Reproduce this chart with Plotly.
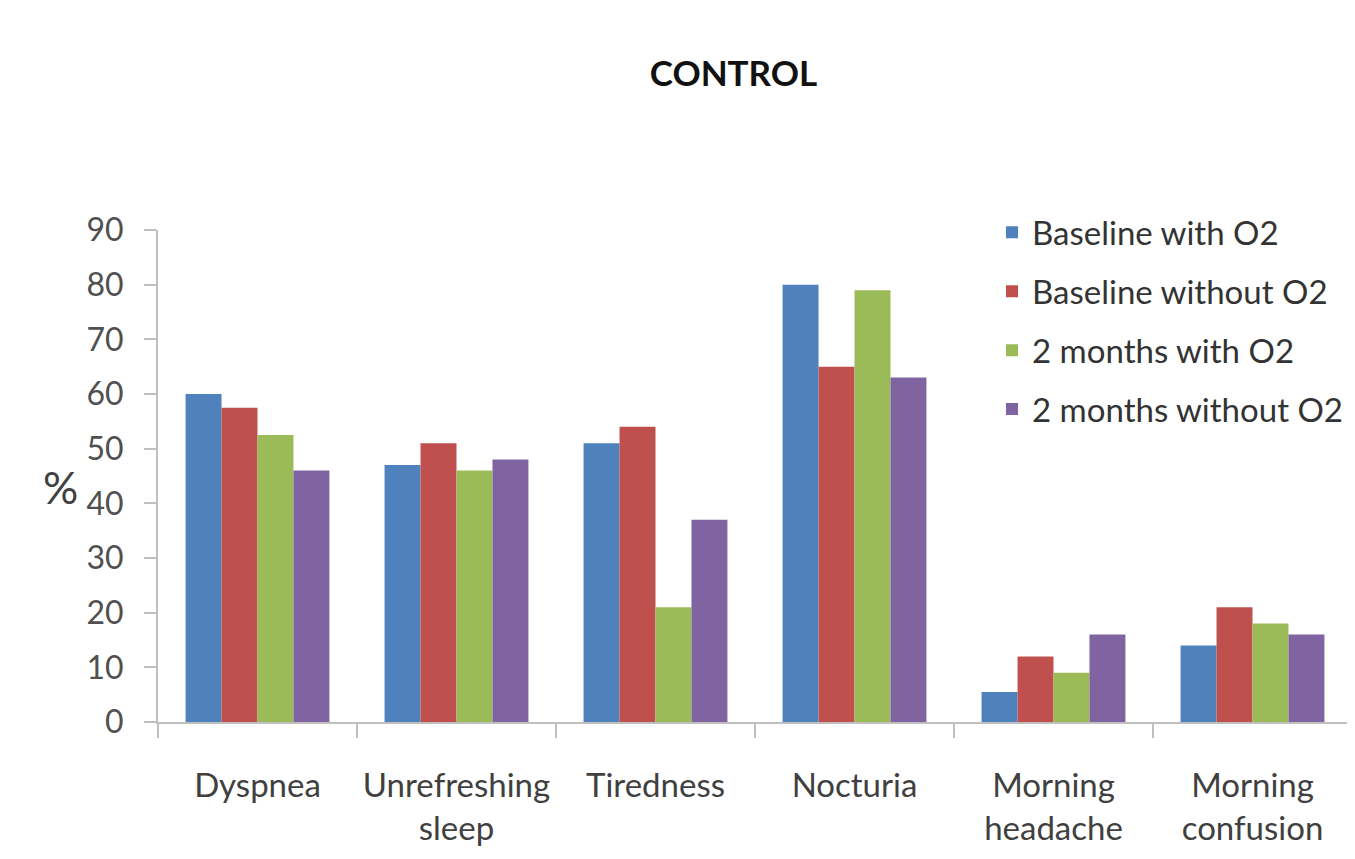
import plotly.graph_objects as go

categories = ["Dyspnea", "Unrefreshing<br>sleep", "Tiredness", "Nocturia", "Morning<br>headache", "Morning<br>confusion"]
series_names = ["Baseline with O2", "Baseline without O2", "2 months with O2", "2 months without O2"]
baseline_with = [60, 47, 51, 80, 5.5, 14]
baseline_without = [57.5, 51, 54, 65, 12, 21]
months2_with = [52.5, 46, 21, 79, 9, 18]
months2_without = [46, 48, 37, 63, 16, 16]
y_ticks = [0, 10, 20, 30, 40, 50, 60, 70, 80, 90]

colors = ["#4F81BD", "#C0504D", "#9BBB59", "#8064A2"]
all_series = [baseline_with, baseline_without, months2_with, months2_without]

FONT = "Lato, 'Open Sans', sans-serif"

fig = go.Figure()
for i, (name, vals) in enumerate(zip(series_names, all_series)):
    fig.add_trace(go.Bar(
        x=categories, y=vals, name=name, legendgroup=f"g{i}",
        marker=dict(color=colors[i], line=dict(width=0)),
    ))

fig.update_layout(
    width=1355, height=859,
    margin=dict(l=150, r=11, t=222, b=145),
    paper_bgcolor="white", plot_bgcolor="white",
    barmode="group", bargap=0.277, bargroupgap=0,
    font=dict(family=FONT, color="#404040"),
    title=dict(text="<b>CONTROL</b>", x=0.482, xref="paper", xanchor="center",
               y=1 - 66 / 859, yref="container", yanchor="middle",
               font=dict(size=35, color="#111111", family=FONT)),
    legend=dict(x=0.6985, y=1.052, xanchor="left", yanchor="top",
                traceorder="grouped", tracegroupgap=13,
                font=dict(size=33, color="#333333", family=FONT),
                bgcolor="rgba(0,0,0,0)", itemwidth=30),
    showlegend=True,
)
fig.update_yaxes(
    range=[0, 90], tickvals=y_ticks, showgrid=False, zeroline=False,
    showline=True, linecolor="#BFBFBF", linewidth=2,
    ticks="outside", ticklen=12, tickcolor="#BFBFBF", tickwidth=2,
    ticklabelstandoff=14, automargin=False,
    tickfont=dict(size=32, color="#505050", family=FONT),
)
fig.update_xaxes(
    showgrid=False, showline=True, linecolor="#BFBFBF", linewidth=2,
    ticks="outside", tickson="boundaries", ticklen=14, tickcolor="#BFBFBF", tickwidth=2,
    ticklabelstandoff=33, tickangle=0, automargin=False,
    tickfont=dict(size=33, color="#404040", family=FONT),
)
fig.add_annotation(text="%", x=(60 - 158) / 1194, y=(722 - 487) / 492,
                   xref="paper", yref="paper", showarrow=False,
                   xanchor="center", yanchor="middle",
                   font=dict(size=44, color="#404040", family=FONT))

fig.write_html("out.html")
